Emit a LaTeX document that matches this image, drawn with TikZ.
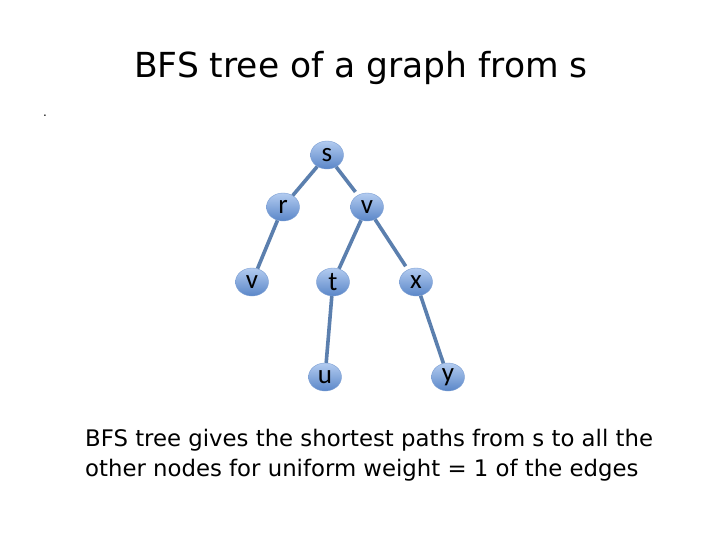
\documentclass[tikz,border=0pt]{standalone}
\usepackage{fontspec}
\setmainfont{DejaVu Sans}
\newfontfamily\labelfont{Carlito}
\definecolor{edgeblue}{HTML}{5B7FAE}
\definecolor{topblue}{HTML}{B3CCF0}
\definecolor{botblue}{HTML}{5A86C8}
\tikzset{>=stealth,
  vert/.style={ellipse, minimum width=33pt, minimum height=28pt, inner sep=0pt,
    top color=topblue, bottom color=botblue, draw=botblue!80, line width=0.4pt,
    font=\labelfont\fontsize{27}{27}\selectfont},
  treeedge/.style={draw=edgeblue, line width=3.6pt}}
\usetikzlibrary{shapes.geometric}

\begin{document}
\begin{tikzpicture}[x=1pt, y=-1pt]
\useasboundingbox[fill=white] (0,0) rectangle (720,540);
\node[font=\fontsize{34.5}{34.5}\selectfont] (title) at (361,68) {BFS tree of a graph from s};
\node[font=\fontsize{12}{12}\selectfont] (dot) at (45,116) {.};
\node[vert] (s) at (327,155) {s};
\node[vert] (r) at (283,207) {r};
\node[vert] (v1) at (367,207) {v};
\node[vert] (v2) at (252,282) {v};
\node[vert] (t) at (333,282) {t};
\node[vert] (x) at (416,282) {x};
\node[vert] (u) at (325,377) {u};
\node[vert] (y) at (448,377) {y};
\draw[treeedge] (s) -- (r);
\draw[treeedge, shorten >=4pt] (s) -- (v1);
\draw[treeedge] (r) -- (v2);
\draw[treeedge] (v1) -- (t);
\draw[treeedge, shorten >=4pt] (v1) -- (x);
\draw[treeedge] (t) -- (u);
\draw[treeedge] (x) -- (y);
\node[anchor=north west, align=left, inner sep=0pt,
  font=\fontsize{22.8}{30}\selectfont] (note) at (85,429)
  {BFS tree gives the shortest paths from s to all the\\
   other nodes for uniform weight = 1 of the edges};
\end{tikzpicture}
\end{document}
